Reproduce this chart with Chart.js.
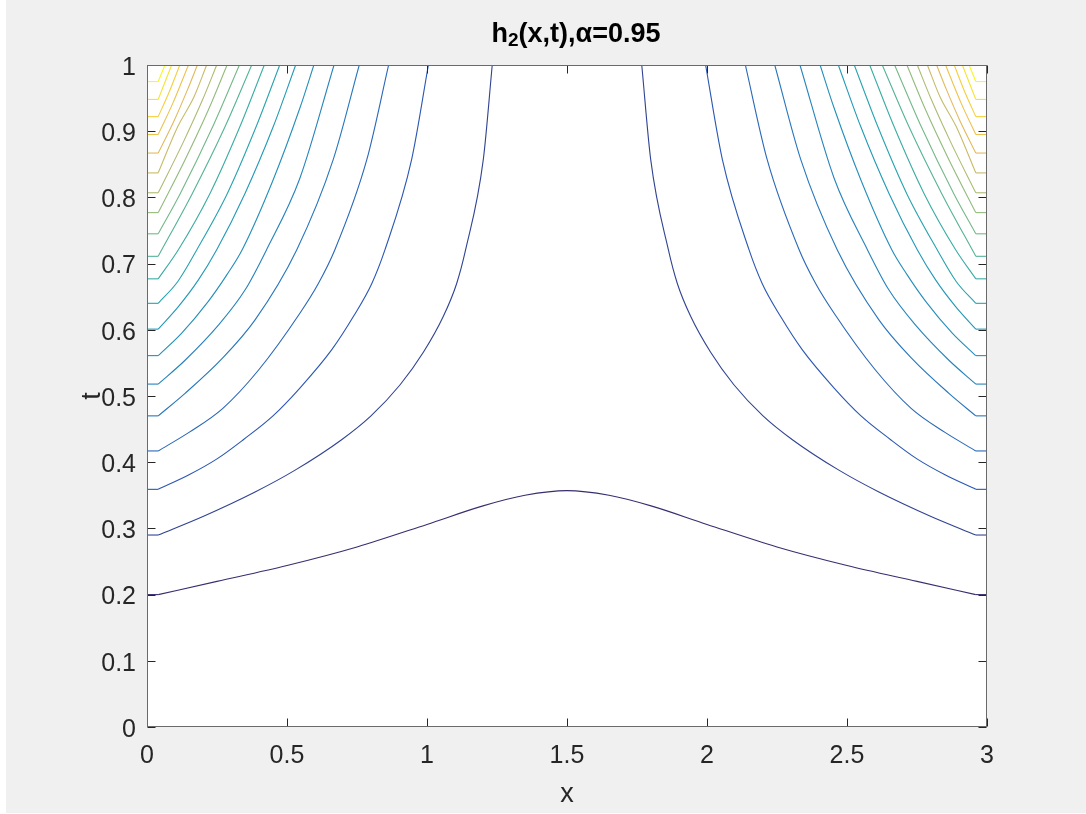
<!DOCTYPE html>
<html>
<head>
<meta charset="utf-8">
<title>h2(x,t) contours</title>
<script src="https://cdn.jsdelivr.net/npm/chart.js@4.4.1/dist/chart.umd.min.js"></script>
<style>
  html, body { margin: 0; padding: 0; background: #fff; }
  #wrap { width: 1086px; height: 814px; }
</style>
</head>
<body>
<div id="wrap"><canvas id="contour"></canvas></div>
<script>
// tick values of both axes
const xTicks = [0, 0.5, 1, 1.5, 2, 2.5, 3];
const tTicks = [0, 0.1, 0.2, 0.3, 0.4, 0.5, 0.6, 0.7, 0.8, 0.9, 1];

// contour lines of h2, left half only ([x, t] pairs, 0 <= x <= 1.5).
// the field is symmetric about x = 1.5, the right half is mirrored below.
// level01 is the lowest level and the only one crossing the middle.
const level01 = [[0, 0.200], [0.04, 0.200], [0.25, 0.220], [0.5, 0.244], [0.75, 0.272], [1.0, 0.306], [1.2, 0.334], [1.35, 0.350], [1.5, 0.357]];
const level02 = [[0, 0.290], [0.04, 0.290], [0.20, 0.318], [0.386, 0.355], [0.529, 0.388], [0.695, 0.434], [0.80, 0.470], [0.904, 0.517], [0.987, 0.566], [1.058, 0.620], [1.106, 0.670], [1.138, 0.721], [1.201, 0.857], [1.233, 1]];
const level03 = [[0, 0.359], [0.04, 0.359], [0.15, 0.381], [0.25, 0.405], [0.344, 0.434], [0.45, 0.470], [0.546, 0.512], [0.660, 0.570], [0.737, 0.620], [0.803, 0.670], [0.850, 0.721], [0.945, 0.857], [1.005, 1]];
const level04 = [[0, 0.417], [0.04, 0.417], [0.15, 0.445], [0.27, 0.481], [0.40, 0.540], [0.546, 0.625], [0.612, 0.670], [0.671, 0.721], [0.785, 0.857], [0.863, 1]];
const level05 = [[0, 0.470], [0.04, 0.470], [0.136, 0.504], [0.267, 0.556], [0.386, 0.615], [0.535, 0.721], [0.665, 0.857], [0.758, 1]];
const level06 = [[0, 0.518], [0.04, 0.518], [0.136, 0.554], [0.255, 0.607], [0.350, 0.660], [0.427, 0.721], [0.546, 0.829], [0.668, 1]];
const level07 = [[0, 0.561], [0.04, 0.561], [0.124, 0.595], [0.219, 0.643], [0.285, 0.683], [0.340, 0.721], [0.450, 0.826], [0.546, 0.935], [0.596, 1]];
const level08 = [[0, 0.601], [0.04, 0.601], [0.112, 0.635], [0.183, 0.675], [0.249, 0.721], [0.350, 0.806], [0.451, 0.907], [0.531, 1]];
const level09 = [[0, 0.640], [0.04, 0.640], [0.110, 0.673], [0.178, 0.721], [0.287, 0.806], [0.390, 0.907], [0.474, 1]];
const level10 = [[0, 0.677], [0.04, 0.677], [0.112, 0.721], [0.225, 0.806], [0.332, 0.907], [0.419, 1]];
const level11 = [[0, 0.711], [0.04, 0.711], [0.162, 0.806], [0.279, 0.907], [0.374, 1]];
const level12 = [[0, 0.745], [0.04, 0.745], [0.119, 0.806], [0.235, 0.907], [0.330, 1]];
const level13 = [[0, 0.777], [0.04, 0.777], [0.136, 0.857], [0.219, 0.932], [0.286, 1]];
const level14 = [[0, 0.807], [0.04, 0.807], [0.128, 0.882], [0.198, 0.947], [0.249, 1]];
const level15 = [[0, 0.837], [0.04, 0.837], [0.110, 0.907], [0.168, 0.952], [0.213, 1]];
const level16 = [[0, 0.867], [0.04, 0.867], [0.098, 0.917], [0.144, 0.962], [0.180, 1]];
const level17 = [[0, 0.895], [0.04, 0.895], [0.092, 0.942], [0.148, 1]];
const level18 = [[0, 0.922], [0.04, 0.922], [0.080, 0.960], [0.117, 1]];
const level19 = [[0, 0.948], [0.04, 0.948], [0.088, 1]];
const level20 = [[0, 0.975], [0.04, 0.975], [0.064, 1]];

const levels = [level01, level02, level03, level04, level05, level06, level07, level08, level09, level10,
                level11, level12, level13, level14, level15, level16, level17, level18, level19, level20];

// parula colormap, sampled every 0.1
const parula = [
  [53, 42, 135], [26, 86, 215], [16, 121, 218], [12, 147, 210], [7, 169, 194], [51, 184, 161],
  [122, 191, 123], [184, 189, 100], [237, 185, 76], [250, 210, 42], [249, 251, 14]
];

// thin dark lines come out duller than the raw map, so mix in some grey at the low end
function levelColor(f) {
  const s = f * (parula.length - 1);
  const i = Math.min(Math.floor(s), parula.length - 2);
  const w = s - i;
  const c = parula[i].map((v, k) => v + (parula[i + 1][k] - v) * w);
  const grey = 0.299 * c[0] + 0.587 * c[1] + 0.114 * c[2];
  const g = 0.3 - 0.22 * f;
  const out = c.map(v => Math.round((1 - g) * v + g * grey));
  return 'rgb(' + out.join(',') + ')';
}

const toXY = pts => pts.map(([x, t]) => ({ x: x, y: t }));
const mirror = pts => pts.map(([x, t]) => [3 - x, t]).reverse();

const datasets = [];
function addLine(pts, color) {
  datasets.push({
    data: toXY(pts),
    borderColor: color,
    borderWidth: 1.1,
    pointRadius: 0,
    fill: false,
    cubicInterpolationMode: 'monotone'
  });
}

levels.forEach((pts, k) => {
  const color = levelColor(k / (levels.length - 1));
  // first two points: flat piece next to the boundary column
  const stub = pts.slice(0, 2);
  const curve = pts.slice(1);
  addLine(stub, color);
  addLine(mirror(stub), color);
  if (k === 0) {
    addLine(curve.concat(mirror(curve).slice(1)), color);
  } else {
    addLine(curve, color);
    addLine(mirror(curve), color);
  }
});

const FONT = '"Liberation Sans", Arial, Helvetica, sans-serif';
const INK = '#262626';

// grey figure, white axes
const background = {
  id: 'background',
  beforeDraw(chart) {
    const { ctx, width, height, chartArea: a } = chart;
    ctx.save();
    ctx.fillStyle = '#ffffff';
    ctx.fillRect(0, 0, width, height);
    ctx.fillStyle = '#f0f0f0';
    ctx.fillRect(6, 0, width - 6, height - 1);
    ctx.fillStyle = '#ffffff';
    ctx.fillRect(a.left, a.top, a.right - a.left, a.bottom - a.top);
    ctx.restore();
  }
};

// box around the axes with inward ticks on all four sides
const axesFrame = {
  id: 'axesFrame',
  afterDatasetsDraw(chart) {
    const { ctx, chartArea: a, scales } = chart;
    const len = 8;
    const L = Math.round(a.left) + 0.5, R = Math.round(a.right) - 0.5;
    const T = Math.round(a.top) + 0.5, B = Math.round(a.bottom) - 0.5;
    ctx.save();
    ctx.strokeStyle = INK;
    ctx.lineWidth = 1;
    ctx.beginPath();
    xTicks.forEach(v => {
      const px = Math.round(scales.x.getPixelForValue(v)) + 0.5;
      ctx.moveTo(px, B); ctx.lineTo(px, B - len);
      ctx.moveTo(px, T); ctx.lineTo(px, T + len);
    });
    tTicks.forEach(v => {
      const py = Math.round(scales.y.getPixelForValue(v)) + 0.5;
      ctx.moveTo(L, py); ctx.lineTo(L + len, py);
      ctx.moveTo(R, py); ctx.lineTo(R - len, py);
    });
    ctx.stroke();
    ctx.strokeStyle = '#6a6a6a';
    ctx.strokeRect(L, T, R - L, B - T);
    ctx.restore();
  }
};

// title with a real subscript: h_2(x,t),alpha=0.95
const titleText = {
  id: 'titleText',
  afterDraw(chart) {
    const ctx = chart.ctx;
    const parts = [
      { s: 'h', font: 'bold 27px ' + FONT, dy: 0 },
      { s: '2', font: 'bold 19px ' + FONT, dy: 4 },
      { s: '(x,t),\u03b1=0.95', font: 'bold 27px ' + FONT, dy: 0 }
    ];
    ctx.save();
    ctx.fillStyle = '#000';
    ctx.textBaseline = 'alphabetic';
    let total = 0;
    parts.forEach(p => { ctx.font = p.font; p.w = ctx.measureText(p.s).width; total += p.w; });
    let x = 576 - total / 2;
    const base = 42;
    parts.forEach(p => {
      ctx.font = p.font;
      ctx.fillText(p.s, x, base + p.dy);
      x += p.w;
    });
    ctx.restore();
  }
};

new Chart(document.getElementById('contour'), {
  type: 'line',
  data: { datasets: datasets },
  options: {
    responsive: true,
    maintainAspectRatio: false,
    animation: false,
    events: [],
    layout: { padding: { top: 65, right: 99, bottom: 0, left: 0 } },
    plugins: {
      legend: { display: false },
      tooltip: { enabled: false },
      title: { display: false }
    },
    scales: {
      x: {
        type: 'linear',
        min: 0,
        max: 3,
        afterBuildTicks(scale) { scale.ticks = xTicks.map(v => ({ value: v })); },
        afterFit(scale) { scale.height = 87; },
        grid: { display: false, drawTicks: false },
        border: { display: false },
        ticks: {
          autoSkip: false,
          maxRotation: 0,
          padding: 14,
          color: INK,
          font: { family: FONT, size: 25 },
          callback: v => String(v)
        },
        title: {
          display: true,
          text: 'x',
          color: INK,
          font: { family: FONT, size: 27 },
          padding: { top: 0, bottom: 3 }
        }
      },
      y: {
        type: 'linear',
        min: 0,
        max: 1,
        afterBuildTicks(scale) { scale.ticks = tTicks.map(v => ({ value: v })); },
        afterFit(scale) { scale.width = 147; },
        grid: { display: false, drawTicks: false },
        border: { display: false },
        ticks: {
          autoSkip: false,
          padding: 11,
          labelOffset: 3,
          color: INK,
          font: { family: FONT, size: 25 },
          callback: v => String(v)
        },
        title: {
          display: true,
          text: 't',
          color: INK,
          font: { family: FONT, size: 27 },
          padding: { top: 76, bottom: 0 }
        }
      }
    }
  },
  plugins: [background, axesFrame, titleText]
});
</script>
</body>
</html>
